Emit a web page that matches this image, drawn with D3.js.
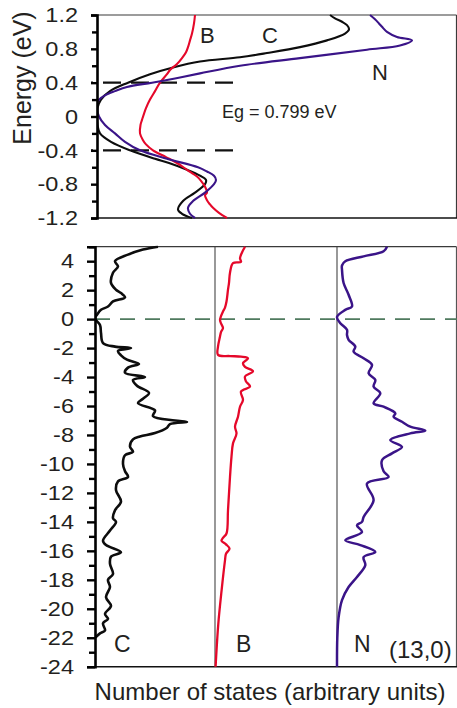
<!DOCTYPE html>
<html>
<head>
<meta charset="utf-8">
<script src="https://cdn.jsdelivr.net/npm/d3@7/dist/d3.min.js"></script>
<style>
  html, body { margin: 0; padding: 0; background: #fff; }
  svg { display: block; }
  text { font-family: "Liberation Sans", Arial, Helvetica, sans-serif; fill: #231f20; }
</style>
</head>
<body>
<svg id="chart" width="457" height="708"></svg>
<script>
// ---- Band-edge window (upper panel): [energy eV, DOS arbitrary units] ----
const bandEdgeC = [
  [-1.2, 9.5], [-1.15, 8.5], [-1.1, 8.1], [-1.0, 8.6], [-0.9, 9.8], [-0.8, 10.8],
  [-0.75, 10.9], [-0.7, 10.3], [-0.63, 9.0], [-0.55, 7.2], [-0.5, 5.8], [-0.4, 3.3],
  [-0.3, 1.4], [-0.2, 0.3], [-0.1, 0.05], [0, 0], [0.1, 0.05], [0.2, 0.4], [0.3, 1.3],
  [0.4, 3.1], [0.5, 5.3], [0.58, 7.6], [0.65, 10.3], [0.7, 14.3], [0.75, 17.0],
  [0.82, 20.3], [0.9, 23.0], [0.98, 24.8], [1.03, 25.2], [1.08, 25.0], [1.12, 24.5],
  [1.16, 23.8], [1.2, 23.3]
];
const bandEdgeB = [
  [-1.2, 13.0], [-1.14, 12.2], [-1.08, 11.6], [-1.04, 11.3], [-0.99, 11.0], [-0.93, 10.8],
  [-0.9, 11.0], [-0.83, 10.8], [-0.76, 10.4], [-0.71, 10.0], [-0.63, 9.0], [-0.55, 8.0],
  [-0.48, 6.9], [-0.4, 5.6], [-0.33, 4.9], [-0.28, 4.6], [-0.2, 4.3], [-0.1, 4.35],
  [-0.04, 4.5], [0.1, 4.9], [0.2, 5.3], [0.3, 5.8], [0.4, 6.3], [0.5, 7.0], [0.55, 7.3],
  [0.62, 8.0], [0.69, 8.5], [0.76, 8.9], [0.82, 9.1], [0.9, 9.3], [0.98, 9.5],
  [1.1, 9.7], [1.2, 9.8]
];
const bandEdgeN = [
  [-1.2, 9.8], [-1.15, 9.3], [-1.08, 9.1], [-1.0, 9.6], [-0.9, 10.8], [-0.8, 11.7],
  [-0.75, 11.9], [-0.7, 11.7], [-0.65, 11.0], [-0.6, 10.1], [-0.5, 7.0], [-0.4, 4.3],
  [-0.3, 2.8], [-0.2, 1.8], [-0.1, 0.8], [0, 0.2], [0.1, 0], [0.15, 0], [0.2, 0.2],
  [0.25, 0.8], [0.3, 1.8], [0.35, 3.0], [0.4, 5.5], [0.45, 7.8], [0.51, 10.3],
  [0.6, 14.3], [0.69, 20.3], [0.79, 27.0], [0.84, 30.3], [0.9, 31.5], [0.94, 30.0],
  [1.0, 29.0], [1.06, 28.5], [1.1, 28.2], [1.15, 27.8], [1.2, 27.3]
];

// ---- Full valence/conduction range (lower panel) ----
const fullC = [
  [5.0, 6.3], [4.8, 4.8], [4.45, 3.3], [4.0, 2.0], [3.64, 2.3], [3.2, 1.8], [2.5, 1.6],
  [2.03, 2.1], [1.8, 2.6], [1.5, 3.0], [1.22, 1.8], [0.87, 1.3], [0.64, 0.6], [0.3, 0.2],
  [0.05, 0], [-0.4, 0.5], [-0.95, 0.6], [-1.65, 0.8], [-1.9, 2.0], [-2.0, 3.6],
  [-2.2, 2.3], [-2.5, 2.6], [-2.8, 3.2], [-3.1, 4.4], [-3.35, 3.3], [-3.7, 3.0],
  [-4.0, 5.0], [-4.2, 3.8], [-4.6, 4.2], [-5.1, 5.4], [-5.5, 4.8], [-5.8, 4.3],
  [-6.3, 6.0], [-6.7, 5.8], [-7.0, 8.0], [-7.1, 9.2], [-7.25, 7.5], [-7.5, 7.2],
  [-7.87, 6.0], [-8.1, 4.5], [-8.3, 3.8], [-8.8, 3.5], [-9.16, 3.8], [-9.4, 3.0],
  [-10.0, 2.8], [-10.5, 3.0], [-10.9, 3.3], [-11.2, 2.3], [-11.8, 2.1], [-12.6, 2.6],
  [-13.2, 2.0], [-13.75, 1.8], [-14.0, 2.1], [-14.6, 1.5], [-15.3, 0.8], [-15.6, 1.1],
  [-16.1, 2.6], [-16.4, 1.6], [-16.9, 1.5], [-17.6, 1.8], [-18.0, 1.3], [-18.5, 1.5],
  [-19.2, 1.1], [-19.8, 1.6], [-20.35, 1.0], [-20.7, 1.3], [-21.0, 0.8], [-21.5, 1.0],
  [-21.7, 0.5], [-22.0, 0]
];
const fullB = [
  [5.0, 3.0], [4.6, 2.7], [4.2, 2.5], [3.95, 2.6], [3.87, 1.8], [3.2, 1.5], [2.5, 1.4],
  [2.03, 1.3], [1.22, 1.15], [0.8, 1.0], [0.53, 0.8], [0.2, 0.6], [-0.05, 0.5],
  [-0.3, 0.6], [-0.62, 0.8], [-0.9, 0.6], [-1.2, 0.5], [-1.9, 0.3], [-2.47, 0.3],
  [-2.55, 1.5], [-2.59, 2.6], [-2.7, 3.3], [-3.05, 2.8], [-3.3, 3.0], [-3.6, 3.8],
  [-3.97, 3.0], [-4.3, 3.1], [-4.66, 3.5], [-5.0, 2.6], [-5.58, 2.8], [-6.05, 2.5],
  [-6.74, 2.3], [-7.43, 2.0], [-7.9, 2.15], [-8.58, 1.8], [-9.5, 1.65], [-10.9, 1.5],
  [-13.2, 1.3], [-14.8, 1.15], [-15.1, 0.8], [-15.3, 0.65], [-15.55, 1.1], [-15.85, 1.45],
  [-16.2, 1.1], [-16.66, 1.0], [-18.73, 0.66], [-21.04, 0.33], [-24.0, 0.06]
];
const fullN = [
  [5.0, 5.0], [4.68, 4.66], [4.33, 2.66], [3.99, 0.83], [3.7, 0.5], [3.41, 0.5],
  [2.49, 0.66], [1.68, 1.16], [0.87, 1.5], [0.64, 0.83], [0.14, 0], [-0.28, 0.33],
  [-0.74, 1.0], [-1.1, 1.0], [-1.43, 1.16], [-1.9, 1.83], [-2.24, 1.66], [-2.7, 2.66],
  [-3.16, 3.5], [-3.74, 3.16], [-4.2, 3.83], [-4.66, 3.66], [-5.12, 4.33], [-5.81, 3.66],
  [-6.05, 4.66], [-6.5, 5.83], [-6.74, 5.66], [-7.09, 6.5], [-7.43, 7.33], [-7.7, 8.83],
  [-7.89, 7.33], [-8.35, 5.33], [-8.82, 6.5], [-9.27, 5.5], [-9.74, 4.5], [-10.5, 4.66],
  [-10.9, 5.16], [-11.35, 3.0], [-12.5, 3.66], [-13.66, 2.66], [-14.0, 2.5], [-14.24, 2.0],
  [-14.7, 2.5], [-15.27, 0.83], [-15.6, 2.33], [-16.08, 3.83], [-16.43, 2.66], [-17.0, 2.83],
  [-17.8, 2.0], [-18.5, 1.16], [-19.4, 0.5], [-20.6, 0.16], [-22.0, 0.03], [-24.0, 0]
];

// Axis ticks and labels
const topMajorTicks = [-1.2, -0.8, -0.4, 0, 0.4, 0.8, 1.2];
const topMinorTicks = [-1.0, -0.6, -0.2, 0.2, 0.6, 1.0];
const bottomMajorTicks = [-24, -22, -20, -18, -16, -14, -12, -10, -8, -6, -4, -2, 0, 2, 4];
const bottomMinorTicks = [-23, -21, -19, -17, -15, -13, -11, -9, -7, -5, -3, -1, 1, 3, 5];
const gapEdges = [-0.4, 0.4];
const gapLabel = "Eg = 0.799 eV";
const tubeLabel = "(13,0)";

const colors = { C: "#0d0d0d", B: "#e5082a", N: "#3a1488" };
const tickStretch = 1.12;   // slightly wide tick numerals

const svg = d3.select("#chart");

function styleTickText(axisG, rightGap) {
  axisG.selectAll(".tick text")
    .attr("font-size", 21).attr("fill", "#231f20")
    .attr("font-family", "'Liberation Sans', Arial, sans-serif")
    .attr("x", -rightGap / tickStretch)
    .attr("transform", `scale(${tickStretch},1)`);
}

// ---------- Upper panel ----------
const topX = d3.scaleLinear().domain([0, 36]).range([97, 457]);
const topY = d3.scaleLinear().domain([-1.2, 1.2]).range([218, 15]);

// frame
svg.append("line").attr("x1", 97).attr("x2", 456.5).attr("y1", 15).attr("y2", 15)
  .attr("stroke", "#3a3a3a").attr("stroke-width", 1.2);
svg.append("line").attr("x1", 456.5).attr("x2", 456.5).attr("y1", 15).attr("y2", 218)
  .attr("stroke", "#3a3a3a").attr("stroke-width", 1.2);
svg.append("line").attr("x1", 97).attr("x2", 457).attr("y1", 218).attr("y2", 218)
  .attr("stroke", "#111").attr("stroke-width", 1.6);

// band-gap edges
svg.selectAll(".gap").data(gapEdges).enter().append("line")
  .attr("x1", 233).attr("x2", 91)
  .attr("y1", d => topY(d)).attr("y2", d => topY(d))
  .attr("stroke", "#111").attr("stroke-width", 2.4).attr("stroke-dasharray", "18,10");

const topLine = d3.line()
  .x(d => topX(d[1])).y(d => topY(d[0]))
  .curve(d3.curveCatmullRom.alpha(0.5));

svg.append("clipPath").attr("id", "topClip")
  .append("rect").attr("x", 97).attr("y", 14).attr("width", 360).attr("height", 205);

const topG = svg.append("g").attr("clip-path", "url(#topClip)");
[[bandEdgeC, colors.C], [bandEdgeB, colors.B], [bandEdgeN, colors.N]].forEach(([d, c]) => {
  topG.append("path").datum(d).attr("d", topLine)
    .attr("fill", "none").attr("stroke", c).attr("stroke-width", 2.1)
    .attr("stroke-linejoin", "round");
});

// left axis
const topAxis = svg.append("g").attr("transform", "translate(97,0)")
  .call(d3.axisLeft(topY).tickValues(topMajorTicks).tickSize(6)
    .tickFormat(d => d === 0 ? "0" : d.toFixed(1).replace("\u2212", "-")));
topAxis.select(".domain").attr("stroke", "#000").attr("stroke-width", 2.6);
topAxis.selectAll(".tick line").attr("stroke", "#000").attr("stroke-width", 2.4);
styleTickText(topAxis, 19);
svg.append("g").attr("transform", "translate(97,0)")
  .call(d3.axisLeft(topY).tickValues(topMinorTicks).tickSize(5).tickFormat(""))
  .call(g => g.select(".domain").remove())
  .selectAll(".tick line").attr("stroke", "#000").attr("stroke-width", 2.4);

svg.append("text").attr("transform", "translate(31,78) rotate(-90)")
  .attr("text-anchor", "middle").attr("font-size", 25).text("Energy (eV)");

svg.append("text").attr("x", 222).attr("y", 118).attr("font-size", 18).text(gapLabel);
svg.append("text").attr("x", 200).attr("y", 43).attr("font-size", 22).text("B");
svg.append("text").attr("x", 262).attr("y", 43).attr("font-size", 22).text("C");
svg.append("text").attr("x", 372).attr("y", 80).attr("font-size", 22).text("N");

// ---------- Lower panel ----------
const panelEdges = [95, 215, 337, 457];
const botY = d3.scaleLinear().domain([-24, 5]).range([666.7, 246.7]);

// frame and separators
svg.append("line").attr("x1", 95).attr("x2", 456.5).attr("y1", 246.7).attr("y2", 246.7)
  .attr("stroke", "#3a3a3a").attr("stroke-width", 1.2);
svg.append("line").attr("x1", 456.5).attr("x2", 456.5).attr("y1", 246.7).attr("y2", 666.7)
  .attr("stroke", "#555").attr("stroke-width", 1.2);
svg.append("line").attr("x1", 95).attr("x2", 457).attr("y1", 666.7).attr("y2", 666.7)
  .attr("stroke", "#111").attr("stroke-width", 1.6);
[panelEdges[1], panelEdges[2]].forEach(x => {
  svg.append("line").attr("x1", x).attr("x2", x).attr("y1", 246.7).attr("y2", 666.7)
    .attr("stroke", "#444").attr("stroke-width", 1.1);
});

// Fermi level
svg.append("line").attr("x1", 95).attr("x2", 457).attr("y1", botY(0)).attr("y2", botY(0))
  .attr("stroke", "#4f7a5e").attr("stroke-width", 1.6).attr("stroke-dasharray", "15,10");

svg.append("clipPath").attr("id", "botClip")
  .append("rect").attr("x", 95).attr("y", 245.5).attr("width", 362).attr("height", 422);
const botG = svg.append("g").attr("clip-path", "url(#botClip)");

[[fullC, colors.C, 0, 2.6], [fullB, colors.B, 1, 2.3], [fullN, colors.N, 2, 2.5]].forEach(([d, c, i, w]) => {
  const x = d3.scaleLinear().domain([0, 12]).range([panelEdges[i], panelEdges[i] + 120]);
  const line = d3.line().x(p => x(p[1])).y(p => botY(p[0]))
    .curve(d3.curveCatmullRom.alpha(0.5));
  botG.append("path").datum(d).attr("d", line)
    .attr("fill", "none").attr("stroke", c).attr("stroke-width", w)
    .attr("stroke-linejoin", "round");
});

const botAxis = svg.append("g").attr("transform", "translate(95,0)")
  .call(d3.axisLeft(botY).tickValues(bottomMajorTicks).tickSize(8)
    .tickFormat(d => String(d)));
botAxis.select(".domain").attr("stroke", "#000").attr("stroke-width", 2.6);
botAxis.selectAll(".tick line").attr("stroke", "#000").attr("stroke-width", 2.4);
styleTickText(botAxis, 21);
svg.append("g").attr("transform", "translate(95,0)")
  .call(d3.axisLeft(botY).tickValues(bottomMinorTicks).tickSize(6).tickFormat(""))
  .call(g => g.select(".domain").remove())
  .selectAll(".tick line").attr("stroke", "#000").attr("stroke-width", 2.4);

svg.append("text").attr("x", 114).attr("y", 652).attr("font-size", 23).text("C");
svg.append("text").attr("x", 236).attr("y", 652).attr("font-size", 23).text("B");
svg.append("text").attr("x", 354).attr("y", 652).attr("font-size", 23).text("N");
svg.append("text").attr("x", 389).attr("y", 658).attr("font-size", 24).text(tubeLabel);

svg.append("text").attr("x", 270).attr("y", 700).attr("text-anchor", "middle")
  .attr("font-size", 24).text("Number of states (arbitrary units)");
</script>
</body>
</html>
